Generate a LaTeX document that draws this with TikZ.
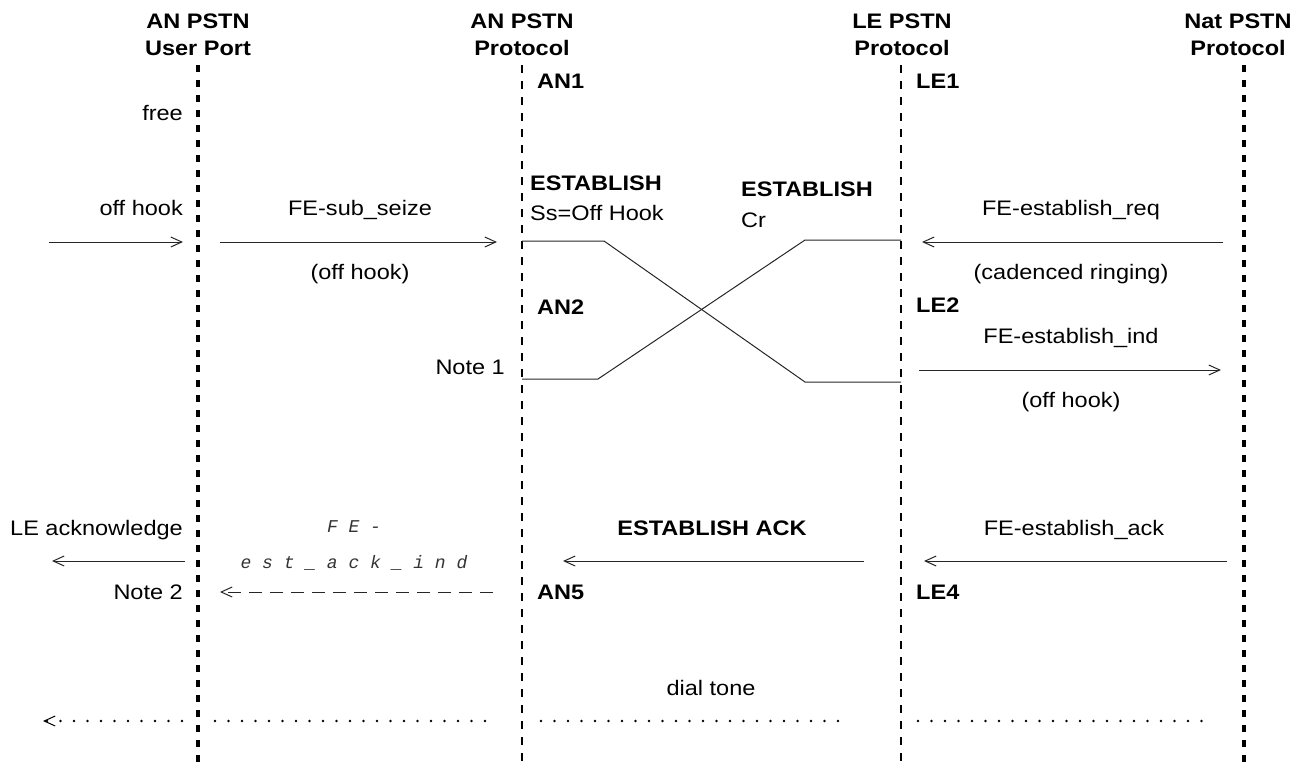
\documentclass[tikz,border=0pt]{standalone}
\usepackage{fontspec}
\setmainfont{Liberation Sans}[FakeStretch=1.12]
\newfontfamily\strokefont{Liberation Mono}
\usetikzlibrary{arrows.meta}

\begin{document}
\begin{tikzpicture}[x=1pt,y=-1pt,
  txt/.style={inner sep=0pt,text height=15pt,text depth=0pt,font=\fontsize{21}{25}\selectfont},
  btxt/.style={txt,font=\fontsize{21}{25}\selectfont\bfseries},
  ftxt/.style={inner sep=0pt,text height=13pt,text depth=0pt,text=black!80,
    font=\fontsize{18}{22}\selectfont\strokefont\itshape},
  lifethick/.style={line width=3.2pt,dash pattern=on 7pt off 8pt},
  lifethin/.style={line width=2pt,dash pattern=on 8pt off 8pt},
  msg/.style={line width=1pt,black!85,-{Straight Barb[length=11pt,width=10pt,line width=1pt]}},
  msgdash/.style={msg,dash pattern=on 13pt off 8pt},
  msgdot/.style={line width=2.6pt,line cap=round,dash pattern=on 0pt off 13.5pt,black},
  state/.style={line width=1pt,black!85}]

\useasboundingbox (0,0) rectangle (1303,764);

% lifelines
\coordinate (u1) at (198,65);  \coordinate (u2) at (198,764);
\coordinate (p1) at (522,65);  \coordinate (p2) at (522,764);
\coordinate (l1) at (901,65);  \coordinate (l2) at (901,764);
\coordinate (n1) at (1244,65); \coordinate (n2) at (1244,764);
\draw[lifethick] (u1) -- (u2);
\draw[lifethin]  (p1) -- (p2);
\draw[lifethin]  (l1) -- (l2);
\draw[lifethick] (n1) -- (n2);

% headers
\node[btxt] (h1a) at (198,21) {AN PSTN};
\node[btxt] (h1b) at (198,48) {User Port};
\node[btxt] (h2a) at (522,21) {AN PSTN};
\node[btxt] (h2b) at (522,48) {Protocol};
\node[btxt] (h3a) at (902,21) {LE PSTN};
\node[btxt] (h3b) at (902,48) {Protocol};
\node[btxt] (h4a) at (1238,21) {Nat PSTN};
\node[btxt] (h4b) at (1238,48) {Protocol};

% states
\node[btxt,anchor=west] (an1) at (537,81) {AN1};
\node[btxt,anchor=west] (le1) at (916,81) {LE1};
\node[btxt,anchor=west] (an2) at (537,307) {AN2};
\node[btxt,anchor=west] (le2) at (916,305) {LE2};
\node[btxt,anchor=west] (an5) at (537,592) {AN5};
\node[btxt,anchor=west] (le4) at (916,592) {LE4};

% user port side
\node[txt,anchor=east] (free) at (183,113) {free};
\node[txt,anchor=east] (offh) at (183,208) {off hook};
\node[txt,anchor=east] (note1) at (505,367) {Note 1};
\node[txt,anchor=east] (leack) at (183,528) {LE acknowledge};
\node[txt,anchor=east] (note2) at (183,592) {Note 2};

% messages
\node[txt] (subseize) at (360,208) {FE-sub\_seize};
\node[txt] (offh2) at (360,272) {(off hook)};
\node[btxt,anchor=west] (est1) at (530,183) {ESTABLISH};
\node[txt,anchor=west] (ss) at (530,213) {Ss=Off Hook};
\node[btxt,anchor=west] (est2) at (741,189) {ESTABLISH};
\node[txt,anchor=west] (cr) at (741,220) {Cr};
\node[txt] (estreq) at (1071,208) {FE-establish\_req};
\node[txt] (cadring) at (1071,272) {(cadenced ringing)};
\node[txt] (estind) at (1071,336) {FE-establish\_ind};
\node[txt] (offh3) at (1071,400) {(off hook)};
\node[ftxt] (fe1) at (354,526) {F E -};
\node[ftxt] (fe2) at (354,562) {e s t \_ a c k \_ i n d};
\node[btxt] (estack) at (712,528) {ESTABLISH ACK};
\node[txt] (estackn) at (1074,528) {FE-establish\_ack};
\node[txt] (dial) at (711,688) {dial tone};

% arrow end points
\coordinate (a1s) at (49,242);   \coordinate (a1e) at (183,242);
\coordinate (a2s) at (220,242);  \coordinate (a2e) at (497,242);
\coordinate (a3s) at (1223,242); \coordinate (a3e) at (922,242);
\coordinate (a4s) at (919,370);  \coordinate (a4e) at (1221,370);
\coordinate (a5s) at (185,561);  \coordinate (a5e) at (52,561);
\coordinate (a6s) at (493,592);  \coordinate (a6e) at (220,592);
\coordinate (a7s) at (864,561);  \coordinate (a7e) at (563,561);
\coordinate (a8s) at (1227,561); \coordinate (a8e) at (924,561);
\draw[msg] (a1s) -- (a1e);
\draw[msg] (a2s) -- (a2e);
\draw[msg] (a3s) -- (a3e);
\draw[msg] (a4s) -- (a4e);
\draw[msg] (a5s) -- (a5e);
\draw[msgdash] (a6s) -- (a6e);
\draw[msg] (a7s) -- (a7e);
\draw[msg] (a8s) -- (a8e);

% crossing ESTABLISH exchange
\coordinate (x1) at (522,241); \coordinate (x2) at (604,241);
\coordinate (x3) at (805,382); \coordinate (x4) at (901,382);
\coordinate (y1) at (522,379); \coordinate (y2) at (598,379);
\coordinate (y3) at (805,240); \coordinate (y4) at (901,240);
\draw[state] (x1) -- (x2) -- (x3) -- (x4);
\draw[state] (y1) -- (y2) -- (y3) -- (y4);

% dial tone
\coordinate (d1s) at (182,721); \coordinate (d1e) at (43,721);
\coordinate (d2s) at (215,721); \coordinate (d2e) at (487,721);
\coordinate (d3s) at (541,721); \coordinate (d3e) at (840,721);
\coordinate (d4s) at (918,721); \coordinate (d4e) at (1204,721);
\draw[msgdot,-{Straight Barb[length=11pt,width=10pt,line width=1pt]}] (d1s) -- (d1e);
\draw[msgdot] (d2s) -- (d2e);
\draw[msgdot] (d3s) -- (d3e);
\draw[msgdot] (d4s) -- (d4e);
\end{tikzpicture}
\end{document}
